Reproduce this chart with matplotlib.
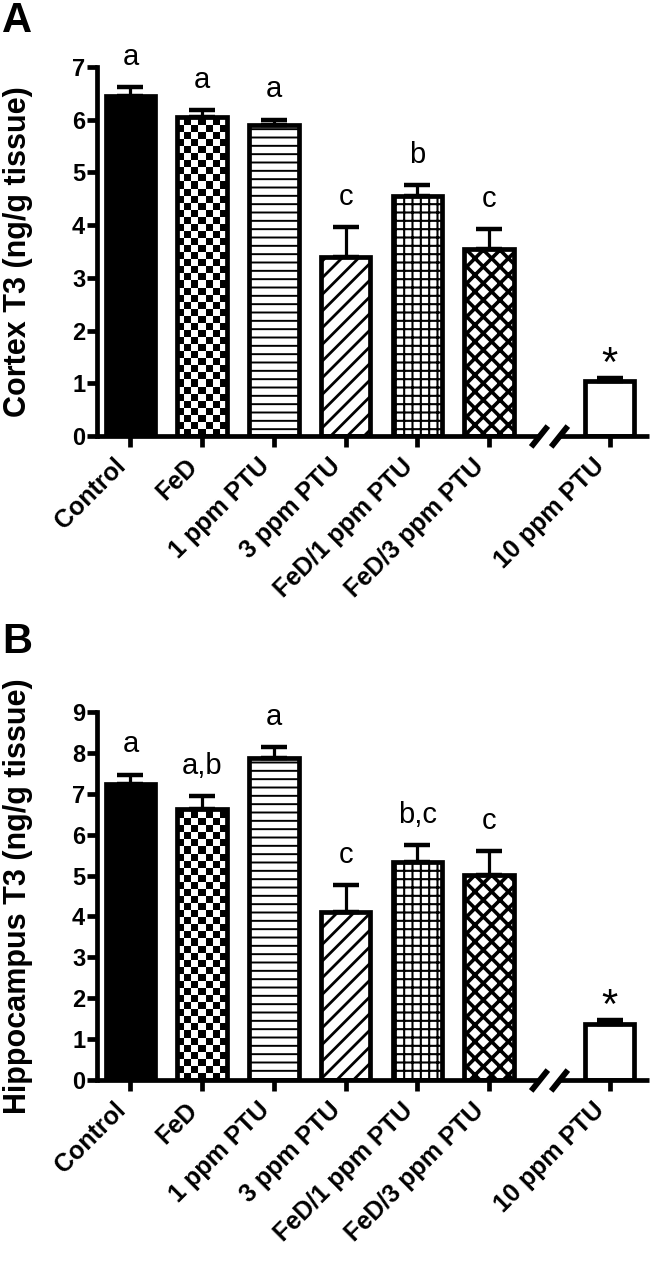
import numpy as np
import matplotlib.pyplot as plt

plt.rcParams['font.family'] = ['Liberation Sans', 'DejaVu Sans']

# data
groups = ['Control', 'FeD', '1 ppm PTU', '3 ppm PTU', 'FeD/1 ppm PTU',
          'FeD/3 ppm PTU', '10 ppm PTU']
cortex_mean = [6.45, 6.05, 5.90, 3.40, 4.55, 3.55, 1.04]
cortex_sem = [0.17, 0.13, 0.10, 0.56, 0.21, 0.38, 0.06]
cortex_sig = ['a', 'a', 'a', 'c', 'b', 'c', '*']
hippo_mean = [7.25, 6.62, 7.88, 4.10, 5.33, 5.02, 1.38]
hippo_sem = [0.22, 0.33, 0.27, 0.66, 0.42, 0.58, 0.08]
hippo_sig = ['a', 'a,b', 'a', 'c', 'b,c', 'c', '*']

# bar fill styles
hatches = [None, 'checker', '--', '//', '++', 'xx', None]
hatch_lw = [1, 1, 1.4, 2.0, 1.5, 2.6, 1]
faces = ['black', 'none', 'white', 'white', 'white', 'white', 'white']

W, H, DPI = 650, 1261, 100
xpos = np.array([0, 1, 2, 3, 4, 5, 6.68])
xlim = (-0.467, 7.23)
xbreak = 5.84
bar_w = 0.69
LW = 3.4


def draw_panel(ax, means, sems, sig, ymax, ylabel):
    ax.set_xlim(*xlim)
    ax.set_ylim(0, ymax)
    bbox = ax.get_position()
    px_x = bbox.width * W / (xlim[1] - xlim[0])
    px_y = bbox.height * H / ymax

    for i in range(len(groups)):
        plt.rcParams['hatch.linewidth'] = hatch_lw[i]
        h = hatches[i]
        bar = ax.bar(xpos[i], means[i], width=bar_w,
                     color=faces[i], edgecolor='black', linewidth=LW,
                     hatch=None if h == 'checker' else h, zorder=2)[0]
        if h is not None and h != 'checker' and hasattr(bar, 'set_hatch_linewidth'):
            bar.set_hatch_linewidth(hatch_lw[i])
        if h == 'checker':
            nx = 7
            cell = (bar_w * px_x / nx) / px_y
            ny = int(np.ceil(means[i] / cell))
            grid = np.add.outer(np.arange(ny), np.arange(nx)) % 2
            x0 = xpos[i] - bar_w / 2
            im = ax.imshow(grid, cmap='gray_r', vmin=0, vmax=1,
                           extent=(x0, x0 + bar_w, 0, ny * cell),
                           origin='lower', interpolation='nearest',
                           aspect='auto', zorder=1.5)
            im.set_clip_path(bar)

    ax.errorbar(xpos, means, yerr=[np.zeros(len(means)), sems], fmt='none',
                ecolor='black', elinewidth=2.3, capsize=9.5, capthick=3.2,
                zorder=3)

    for i, s in enumerate(sig):
        top = means[i] + sems[i]
        if s == '*':
            ax.annotate(s, xy=(xpos[i], top), xytext=(0, 1.5),
                        textcoords='offset points', ha='center',
                        va='baseline', fontsize=30)
        else:
            ax.annotate(s, xy=(xpos[i], top), xytext=(0, 16),
                        textcoords='offset points', ha='center',
                        va='baseline', fontsize=21)

    ax.set_xlim(*xlim)
    ax.set_ylim(0, ymax)

    # axes styling
    for side in ['top', 'right', 'bottom']:
        ax.spines[side].set_visible(False)
    ax.spines['left'].set_linewidth(LW)
    ax.set_yticks(range(ymax + 1), labels=[str(v) for v in range(ymax + 1)],
                  fontsize=17, fontweight='bold')
    ax.set_xticks(xpos, labels=groups, rotation=45, ha='right',
                  fontsize=18, fontweight='bold')
    ax.tick_params(axis='y', length=7, width=LW, pad=1.5)
    ax.tick_params(axis='x', length=8, width=LW, pad=5)

    # broken x axis
    d = 0.14
    ax.plot([xlim[0], xbreak - d], [0, 0], color='black', lw=LW,
            solid_capstyle='butt', clip_on=False, zorder=4)
    ax.plot([xbreak + d, xlim[1]], [0, 0], color='black', lw=LW,
            solid_capstyle='butt', clip_on=False, zorder=4)
    for xs in (xbreak - d, xbreak + d):
        ax.plot([xs], [0], marker=[(-0.8, -1), (0.8, 1)], markersize=15,
                markeredgewidth=4.2, color='black', clip_on=False, zorder=4)

    ax.set_ylabel(ylabel, fontsize=22, fontweight='bold')
    ax.yaxis.set_label_coords(-0.116, 0.5)


fig = plt.figure(figsize=(W / DPI, H / DPI), dpi=DPI)
axA = fig.add_axes([97 / W, 1 - 436 / H, 552 / W, 369 / H])
axB = fig.add_axes([97 / W, 1 - 1080 / H, 552 / W, 368 / H])

draw_panel(axA, cortex_mean, cortex_sem, cortex_sig, 7,
           'Cortex T3 (ng/g tissue)')
draw_panel(axB, hippo_mean, hippo_sem, hippo_sig, 9,
           'Hippocampus T3 (ng/g tissue)')

fig.text(0.003, 0.9995, 'A', fontsize=30, fontweight='bold', va='top', ha='left')
fig.text(0.003, 1 - 622 / H, 'B', fontsize=30, fontweight='bold', va='top', ha='left')

fig.savefig('out.png', dpi=DPI)
